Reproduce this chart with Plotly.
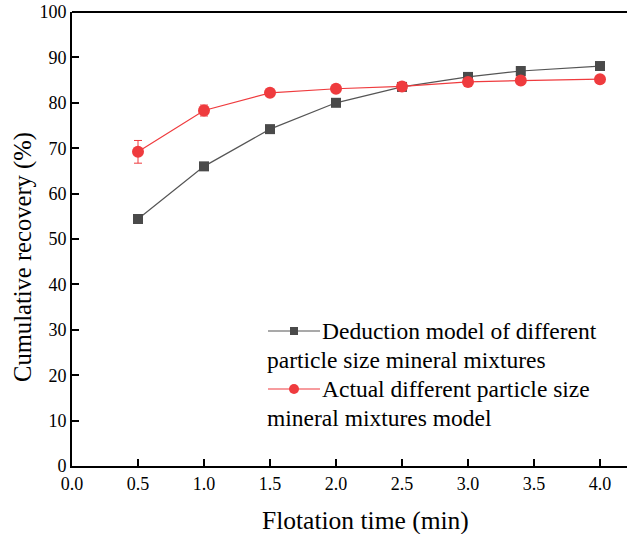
import plotly.graph_objects as go

time_min = [0.5, 1.0, 1.5, 2.0, 2.5, 3.0, 3.4, 4.0]
deduction = [54.4, 66.0, 74.2, 80.0, 83.5, 85.7, 87.0, 88.1]
actual = [69.2, 78.3, 82.2, 83.1, 83.6, 84.6, 84.9, 85.2]
actual_err = [2.5, 1.2, 0.0, 0.0, 0.0, 0.0, 0.0, 0.0]

legend_line1 = ["Deduction model of different", "Actual different particle size"]
legend_line2 = ["particle size mineral mixtures", "mineral mixtures model"]

x_title = "Flotation time (min)"
y_title = "Cumulative recovery (%)"

x_ticks = [0.0, 0.5, 1.0, 1.5, 2.0, 2.5, 3.0, 3.5, 4.0]
y_ticks = [0, 10, 20, 30, 40, 50, 60, 70, 80, 90, 100]

BLACK = "#4a4a4a"
RED = "#ef3b3e"
FONT = "Liberation Serif"

W, H = 627, 534
L, R, T, B = 72, 0, 12, 68

fig = go.Figure()
fig.add_trace(go.Scatter(
    x=time_min, y=deduction, mode="lines+markers",
    line=dict(color="#555555", width=1.2),
    marker=dict(symbol="square", size=10, color=BLACK),
    showlegend=False))
fig.add_trace(go.Scatter(
    x=time_min, y=actual, mode="lines+markers",
    line=dict(color=RED, width=1.2),
    marker=dict(symbol="circle", size=12, color=RED),
    error_y=dict(type="data", array=actual_err, visible=True, color=RED, thickness=1, width=4),
    showlegend=False))

pw = W - L - R
ph = H - T - B

def px(xp):
    return (xp - L) / pw

def py(yp):
    return 1 - (yp - T) / ph

shapes = []
annotations = []
ys = [331, 389]
LEG_FS = 23.5
for i in range(2):
    y = ys[i]
    shapes.append(dict(type="line", xref="paper", yref="paper",
                       x0=px(268), x1=px(320), y0=py(y), y1=py(y),
                       line=dict(color="#555555" if i == 0 else RED, width=1.2)))
    if i == 0:
        shapes.append(dict(type="rect", xref="paper", yref="paper",
                           x0=px(290), x1=px(298), y0=py(y - 4), y1=py(y + 4),
                           fillcolor=BLACK, line=dict(width=0)))
    else:
        shapes.append(dict(type="circle", xref="paper", yref="paper",
                           x0=px(289), x1=px(299), y0=py(y - 5), y1=py(y + 5),
                           fillcolor=RED, line=dict(width=0)))
    annotations.append(dict(text=legend_line1[i], xref="paper", yref="paper",
                            x=px(320), y=py(y), xanchor="left", yanchor="middle",
                            showarrow=False, font=dict(family=FONT, size=LEG_FS, color="black")))
    annotations.append(dict(text=legend_line2[i], xref="paper", yref="paper",
                            x=px(265), y=py(y + 29), xanchor="left", yanchor="middle",
                            showarrow=False, font=dict(family=FONT, size=LEG_FS, color="black")))

# axis titles
annotations.append(dict(text=x_title, xref="paper", yref="paper", x=px(365), y=py(520),
                        xanchor="center", yanchor="middle", showarrow=False,
                        font=dict(family=FONT, size=25.5, color="black")))
annotations.append(dict(text=y_title, xref="paper", yref="paper", x=px(23), y=py(257),
                        xanchor="center", yanchor="middle", textangle=-90, showarrow=False,
                        font=dict(family=FONT, size=24.6, color="black")))

# top border line
shapes.append(dict(type="line", xref="paper", yref="paper", x0=0, x1=1, y0=1, y1=1,
                   line=dict(color="black", width=2)))

fig.update_layout(
    width=W, height=H,
    margin=dict(l=L, r=R, t=T, b=B),
    plot_bgcolor="white", paper_bgcolor="white",
    font=dict(family=FONT, size=18, color="black"),
    shapes=shapes, annotations=annotations,
    xaxis=dict(range=[0, (W - L - R) / 132.0], tickvals=x_ticks,
               ticktext=[f"{v:.1f}" for v in x_ticks],
               ticks="inside", ticklen=7, tickwidth=1.5, tickcolor="black",
               showline=True, linecolor="black", linewidth=2, showgrid=False, zeroline=False),
    yaxis=dict(range=[0, 100], tickvals=y_ticks,
               ticks="inside", ticklen=7, tickwidth=1.5, tickcolor="black",
               showline=True, linecolor="black", linewidth=2, showgrid=False, zeroline=False),
)

fig.write_html("out.html")
